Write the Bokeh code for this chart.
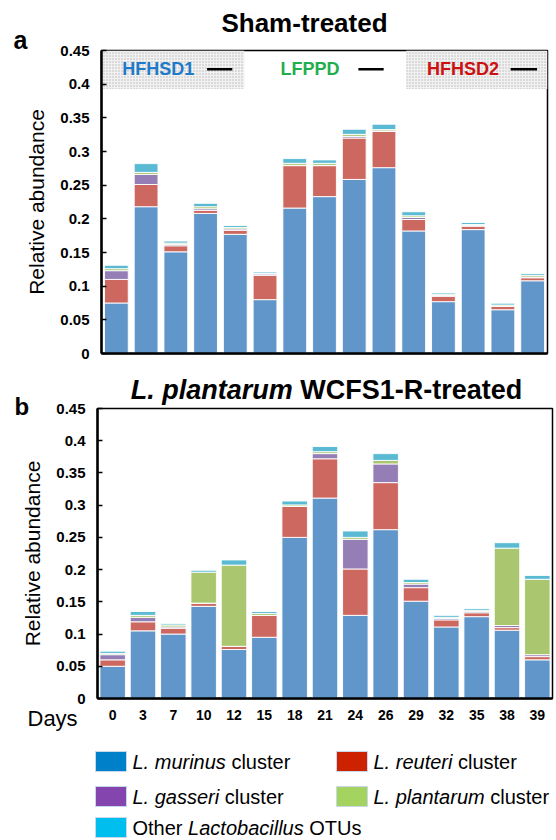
from bokeh.plotting import figure
from bokeh.models import Range1d, FixedTicker, ColumnDataSource
from bokeh.layouts import column
from bokeh.embed import file_html
from bokeh.resources import INLINE
from bokeh.core.properties import value

# ---------------- data ----------------
days = ["0", "3", "7", "10", "12", "15", "18", "21", "24", "26", "29", "32", "35", "38", "39"]
y_ticks = [0.0, 0.05, 0.1, 0.15, 0.2, 0.25, 0.3, 0.35, 0.4, 0.45]
y_tick_labels = ["0", "0.05", "0.1", "0.15", "0.2", "0.25", "0.3", "0.35", "0.4", "0.45"]
stack_keys = ["murinus", "reuteri", "gasseri", "plantarum", "other"]

# Panel a: Sham-treated
sham_murinus = [0.075, 0.218, 0.151, 0.208, 0.177, 0.080, 0.216, 0.233, 0.2585, 0.276, 0.182, 0.077, 0.184, 0.065, 0.108]
sham_reuteri = [0.035, 0.033, 0.009, 0.0045, 0.006, 0.036, 0.063, 0.046, 0.0615, 0.054, 0.017, 0.008, 0.005, 0.005, 0.0045]
sham_gasseri = [0.013, 0.015, 0.002, 0.0025, 0.002, 0.002, 0.0005, 0.0005, 0.0025, 0.0005, 0.003, 0.001, 0.001, 0.0005, 0.001]
sham_plantarum = [0.003, 0.003, 0.002, 0.003, 0.002, 0.001, 0.003, 0.003, 0.003, 0.002, 0.0025, 0.002, 0.0015, 0.0015, 0.0025]
sham_other = [0.005, 0.013, 0.003, 0.005, 0.003, 0.002, 0.007, 0.005, 0.0075, 0.008, 0.006, 0.002, 0.003, 0.0027, 0.0025]

# Panel b: L. plantarum WCFS1-R-treated
lp_murinus = [0.050, 0.105, 0.100, 0.143, 0.076, 0.095, 0.250, 0.311, 0.129, 0.262, 0.151, 0.111, 0.127, 0.106, 0.060]
lp_reuteri = [0.010, 0.014, 0.009, 0.005, 0.005, 0.034, 0.048, 0.061, 0.072, 0.073, 0.021, 0.011, 0.006, 0.004, 0.005]
lp_gasseri = [0.008, 0.007, 0.002, 0.0, 0.0, 0.0, 0.0, 0.008, 0.046, 0.029, 0.0055, 0.002, 0.002, 0.0033, 0.003]
lp_plantarum = [0.002, 0.003, 0.003, 0.048, 0.126, 0.003, 0.0024, 0.003, 0.003, 0.0055, 0.0025, 0.002, 0.002, 0.120, 0.117]
lp_other = [0.0035, 0.006, 0.002, 0.003, 0.008, 0.003, 0.006, 0.008, 0.010, 0.0105, 0.005, 0.003, 0.0027, 0.0085, 0.006]

diet_phases = ["HFHSD1", "LFPPD", "HFHSD2"]

legend_segments = [
    [("L. murinus", "italic"), (" cluster", "normal")],
    [("L. reuteri", "italic"), (" cluster", "normal")],
    [("L. gasseri", "italic"), (" cluster", "normal")],
    [("L. plantarum", "italic"), (" cluster", "normal")],
    [("Other ", "normal"), ("Lactobacillus", "italic"), (" OTUs", "normal")],
]

# ---------------- style ----------------
FONT = "Liberation Sans"
BAR_COLORS = ["#6096c9", "#cd6860", "#957eb5", "#aac66e", "#5bbad3"]
LEGEND_COLORS = ["#0080c8", "#cc2200", "#8446ae", "#a4d360", "#00bfef"]
PHASE_COLORS = ["#1f7ac8", "#1fae4e", "#cc1111"]

REG = {' ': 278, '.': 278, '-': 333, 'A': 667, 'C': 722, 'D': 722, 'F': 611, 'H': 722,
       'L': 556, 'O': 778, 'P': 667, 'R': 722, 'S': 667, 'T': 611, 'U': 722, 'W': 944,
       'a': 556, 'b': 556, 'c': 500, 'd': 556, 'e': 556, 'g': 556, 'h': 556, 'i': 222,
       'l': 222, 'm': 833, 'n': 556, 'o': 556, 'p': 556, 'r': 333, 's': 500, 't': 278,
       'u': 556, 'v': 500, 'y': 500}
BOLD = {' ': 278, '.': 278, '-': 333, 'C': 722, 'D': 722, 'F': 611, 'H': 722, 'L': 611,
        'P': 667, 'R': 722, 'S': 667, 'W': 944, 'a': 556, 'd': 611, 'e': 556, 'h': 611,
        'l': 278, 'm': 889, 'n': 611, 'p': 611, 'r': 389, 't': 333, 'u': 611}


def text_width(s, table, size):
    return sum(table.get(c, 556) for c in s) * size / 1000.0


def make_panel(series, width, height, left, right, top, bottom, bar_width, show_days):
    p = figure(width=width, height=height,
               x_range=Range1d(-0.5, len(days) - 0.5), y_range=Range1d(0, 0.45),
               output_backend="svg", toolbar_location=None,
               min_border_left=left, min_border_right=right,
               min_border_top=top, min_border_bottom=bottom)
    p.frame_align = False
    data = dict(x=list(range(len(days))))
    data.update(dict(zip(stack_keys, series)))
    src = ColumnDataSource(data)
    p.vbar_stack(stack_keys, x="x", width=bar_width, color=BAR_COLORS, source=src,
                 line_color="white", line_width=1, line_alpha=0.9)
    p.grid.visible = False
    p.outline_line_color = "black"
    p.outline_line_width = 1.5

    yax = p.yaxis[0]
    yax.ticker = FixedTicker(ticks=y_ticks)
    yax.major_label_overrides = {t: l for t, l in zip(y_ticks, y_tick_labels)}
    yax.major_tick_in = 5
    yax.major_tick_out = 0
    yax.major_tick_line_width = 1.5
    yax.major_tick_line_color = "black"
    yax.minor_tick_line_color = None
    yax.axis_line_width = 2.5
    yax.axis_line_color = "black"
    yax.major_label_text_font = FONT
    yax.major_label_text_font_size = "15px"
    yax.major_label_text_font_style = "bold"
    yax.major_label_text_color = "black"
    yax.major_label_standoff = 12
    yax.axis_label = "Relative abundance"
    yax.axis_label_text_font = FONT
    yax.axis_label_text_font_size = "21px"
    yax.axis_label_text_font_style = "normal"
    yax.axis_label_text_color = "black"
    yax.axis_label_standoff = 9

    xax = p.xaxis[0]
    xax.axis_line_width = 2.5
    xax.axis_line_color = "black"
    xax.major_tick_in = 0
    xax.major_tick_out = 0
    xax.minor_tick_line_color = None
    if show_days:
        xax.ticker = FixedTicker(ticks=list(range(len(days))))
        xax.major_label_overrides = {i: d for i, d in enumerate(days)}
        xax.major_label_text_font = FONT
        xax.major_label_text_font_size = "14px"
        xax.major_label_text_font_style = "bold"
        xax.major_label_text_color = "black"
        xax.major_label_standoff = 11
    else:
        xax.ticker = FixedTicker(ticks=[])
    return p


PAGE_W, PAGE_H = 556, 840

# ---------------- panel a ----------------
H1 = 360
p1 = make_panel([sham_murinus, sham_reuteri, sham_gasseri, sham_plantarum, sham_other],
                PAGE_W, H1, 101, 9, 50, 7, 0.8, False)

# diet phase header boxes (shaded) and labels
p1.quad(left=[-0.5, 9.75], right=[4.3, 14.5], bottom=0.393, top=0.45,
        fill_color="#f1f1f1", hatch_pattern="dot", hatch_color="#a8a8a8",
        hatch_scale=3, hatch_alpha=0.8, line_color=None)
p1.text(x=[0.2, 5.52, 10.45], y=[0.422] * 3, text=diet_phases, text_color=PHASE_COLORS,
        text_font=value(FONT), text_font_size="18px", text_font_style="bold",
        text_baseline="middle", text_align="left")
p1.segment(x0=[3.05, 8.14, 13.26], x1=[3.9, 8.99, 14.15], y0=[0.422] * 3, y1=[0.422] * 3,
           line_color="black", line_width=2.5)

# ---------------- panel b ----------------
H2 = PAGE_H - H1
p2 = make_panel([lp_murinus, lp_reuteri, lp_gasseri, lp_plantarum, lp_other],
                PAGE_W, H2, 97, 4, 48, H2 - 48 - 290, 0.84, True)

# ---------------- overlay with free text + legend (pixel coordinates) ----------------
ov = figure(width=PAGE_W, height=PAGE_H, x_range=Range1d(0, PAGE_W), y_range=Range1d(PAGE_H, 0),
            output_backend="svg", toolbar_location=None, min_border=0,
            x_axis_location=None, y_axis_location=None)
ov.frame_align = False
ov.grid.visible = False
ov.outline_line_color = None
ov.background_fill_color = None
ov.border_fill_color = None
ov.margin = (-PAGE_H, 0, 0, 0)


def draw_runs(x, y, segs, size, table, baseline="alphabetic"):
    """Draw consecutive text runs of different styles, advancing by metric widths."""
    xs, ys, tt, ss = [], [], [], []
    for txt, style in segs:
        lead = len(txt) - len(txt.lstrip(" "))
        x += text_width(" " * lead, table, size)
        core = txt.strip(" ")
        xs.append(x)
        ys.append(y)
        tt.append(core)
        ss.append(style)
        x += text_width(core, table, size)
        trail = len(txt) - len(txt.rstrip(" "))
        x += text_width(" " * trail, table, size)
    ov.text(x=xs, y=ys, text=tt, text_font_style=ss, text_font=value(FONT),
            text_font_size="%gpx" % size, text_baseline=baseline, text_align="left",
            text_color="black")


def draw_text(x, y, text, size, style="normal", align="left", baseline="alphabetic"):
    ov.text(x=[x], y=[y], text=[text], text_font=value(FONT), text_font_size="%gpx" % size,
            text_font_style=style, text_align=align, text_baseline=baseline, text_color="black")


draw_text(304, 22, "Sham-treated", 26, "bold", "center")
draw_text(13, 39, "a", 25, "bold")

title_b = [("L. plantarum", "bold italic"), (" WCFS1-R-treated", "bold")]
tsize = 27
w_total = sum(text_width(t, BOLD, tsize) for t, _ in title_b)
draw_runs(326 - w_total / 2, 389, title_b, tsize, BOLD)
draw_text(14, 406, "b", 24, "bold")
draw_text(27, 718, "Days", 22, "normal", "left", "middle")

col_x = [95, 336]
row_y = [761, 796, 827]
slots = [(0, 0), (1, 0), (0, 1), (1, 1), (0, 2)]
sw_w, sw_h, lsize = 31, 20, 20
sx, sy = [], []
for (c, r) in slots:
    sx.append(col_x[c] + sw_w / 2)
    sy.append(row_y[r])
ov.rect(x=sx, y=sy, width=sw_w, height=sw_h, fill_color=LEGEND_COLORS,
        line_color="#c8d8e8", line_width=1)

for (c, r), segs in zip(slots, legend_segments):
    draw_runs(col_x[c] + sw_w + 6, row_y[r], segs, lsize, REG, "middle")

layout = column(p1, p2, ov, spacing=0)
open("out.html", "w").write(file_html(layout, INLINE))
